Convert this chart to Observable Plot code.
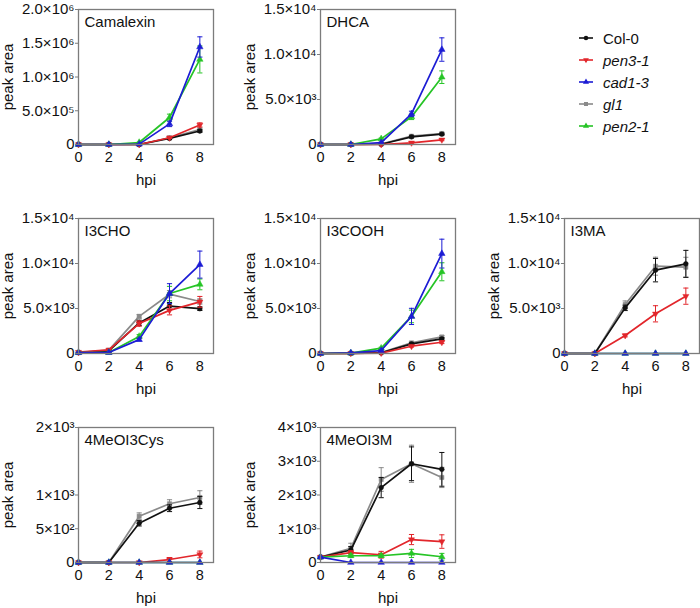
<!DOCTYPE html>
<html>
<head>
<meta charset="utf-8">
<script src="https://cdn.jsdelivr.net/npm/d3@7"></script>
<script src="https://cdn.jsdelivr.net/npm/@observablehq/plot@0.6"></script>
<style>
  html, body { margin: 0; padding: 0; background: #fff; }
  #root { position: relative; width: 700px; height: 608px; font-family: "Liberation Sans", Arial, sans-serif; }
  #root svg text { font-family: "Liberation Sans", Arial, sans-serif; }
  g[aria-label="x-axis label"] text, g[aria-label="y-axis label"] text { font-size: 15px; }
  .legend { position: absolute; left: 578px; top: 27px; font-size: 15px; color: #111; }
  .legend .row { height: 22px; display: flex; align-items: center; }
  .legend .row span { margin-left: 9px; }
</style>
</head>
<body>
<div id="root"></div>
<script>
// ---------------- data ----------------
const hpi = [0, 2, 4, 6, 8];
const seriesNames = ["Col-0", "pen3-1", "cad1-3", "gl1", "pen2-1"];
const seriesItalic = [false, true, true, true, true];
const seriesColors = ["#111111", "#e2262b", "#1c1cd4", "#8a8a8a", "#26c426"];
const drawOrder = ["gl1", "Col-0", "pen3-1", "pen2-1", "cad1-3"];

const panelTitles = ["Camalexin", "DHCA", "I3CHO", "I3COOH", "I3MA", "4MeOI3Cys", "4MeOI3M"];
const panelYMax = [2e6, 1.5e4, 1.5e4, 1.5e4, 1.5e4, 2e3, 4e3];

const camalexinTicks = [0, 5e5, 1e6, 1.5e6, 2e6];
const camalexinTickLabels = ["0", "5.0×10⁵", "1.0×10⁶", "1.5×10⁶", "2.0×10⁶"];
const e4Ticks = [0, 5e3, 1e4, 1.5e4];
const e4TickLabels = ["0", "5.0×10³", "1.0×10⁴", "1.5×10⁴"];
const cysTicks = [0, 500, 1000, 2000];
const cysTickLabels = ["0", "5×10²", "1×10³", "2×10³"];
const mTicks = [0, 1000, 2000, 3000, 4000];
const mTickLabels = ["0", "1×10³", "2×10³", "3×10³", "4×10³"];

// mean values (order of hpi), per panel
const camalexin = {
  "Col-0":  [0, 0, 0, 90000, 200000],
  "pen3-1": [0, 0, 0, 100000, 290000],
  "cad1-3": [0, 0, 5000, 305000, 1445000],
  "gl1":    [0, 0, 0, 100000, 220000],
  "pen2-1": [0, 0, 30000, 400000, 1260000]
};
const camalexinErr = {
  "Col-0":  [0, 0, 0, 10000, 20000],
  "pen3-1": [0, 0, 0, 10000, 30000],
  "cad1-3": [0, 0, 5000, 40000, 150000],
  "gl1":    [0, 0, 0, 15000, 25000],
  "pen2-1": [0, 0, 5000, 50000, 200000]
};
const dhca = {
  "Col-0":  [0, 0, 30, 850, 1150],
  "pen3-1": [0, 0, 0, 185, 520],
  "cad1-3": [0, 0, 200, 3400, 10550],
  "gl1":    [0, 0, 50, 925, 1220],
  "pen2-1": [0, 0, 630, 3070, 7480]
};
const dhcaErr = {
  "Col-0":  [0, 0, 0, 100, 100],
  "pen3-1": [0, 0, 0, 50, 100],
  "cad1-3": [0, 0, 50, 300, 1300],
  "gl1":    [0, 0, 0, 150, 100],
  "pen2-1": [0, 0, 80, 300, 700]
};
const i3cho = {
  "Col-0":  [100, 290, 3400, 5270, 4980],
  "pen3-1": [150, 400, 3330, 4790, 5740],
  "cad1-3": [100, 110, 1540, 6660, 9880],
  "gl1":    [100, 370, 4130, 6590, 5780],
  "pen2-1": [100, 100, 1900, 6660, 7680]
};
const i3choErr = {
  "Col-0":  [30, 60, 300, 400, 200],
  "pen3-1": [60, 80, 300, 500, 600],
  "cad1-3": [30, 30, 150, 1100, 1500],
  "gl1":    [30, 60, 200, 400, 300],
  "pen2-1": [30, 30, 200, 800, 600]
};
const i3cooh = {
  "Col-0":  [0, 20, 80, 1070, 1620],
  "pen3-1": [0, 20, 50, 810, 1250],
  "cad1-3": [0, 70, 330, 4120, 11100],
  "gl1":    [0, 20, 100, 1180, 1840],
  "pen2-1": [0, 50, 590, 4120, 9080]
};
const i3coohErr = {
  "Col-0":  [0, 0, 30, 100, 150],
  "pen3-1": [0, 0, 20, 100, 150],
  "cad1-3": [0, 20, 80, 900, 1600],
  "gl1":    [0, 0, 30, 100, 150],
  "pen2-1": [0, 30, 100, 700, 1000]
};
const i3ma = {
  "Col-0":  [0, 0, 5070, 9260, 9960],
  "pen3-1": [0, 0, 2000, 4410, 6370],
  "cad1-3": [0, 0, 0, 0, 0],
  "gl1":    [0, 0, 5440, 9700, 9590],
  "pen2-1": [0, 0, 0, 0, 0]
};
const i3maErr = {
  "Col-0":  [0, 0, 300, 1300, 1500],
  "pen3-1": [0, 0, 150, 900, 900],
  "cad1-3": [0, 0, 0, 0, 0],
  "gl1":    [0, 0, 400, 1000, 1100],
  "pen2-1": [0, 0, 0, 0, 0]
};
const meoCys = {
  "Col-0":  [0, 0, 581, 804, 889],
  "pen3-1": [0, 0, 0, 44, 119],
  "cad1-3": [0, 0, 0, 0, 0],
  "gl1":    [0, 0, 685, 870, 963],
  "pen2-1": [0, 0, 0, 0, 0]
};
const meoCysErr = {
  "Col-0":  [0, 0, 40, 50, 90],
  "pen3-1": [0, 0, 0, 30, 50],
  "cad1-3": [0, 0, 0, 0, 0],
  "gl1":    [0, 0, 50, 60, 100],
  "pen2-1": [0, 0, 0, 0, 0]
};
const meoM = {
  "Col-0":  [160, 370, 2220, 2925, 2760],
  "pen3-1": [160, 290, 230, 680, 620],
  "cad1-3": [160, 0, 0, 0, 0],
  "gl1":    [160, 420, 2460, 2925, 2520],
  "pen2-1": [160, 200, 200, 270, 170]
};
const meoMErr = {
  "Col-0":  [20, 100, 300, 500, 500],
  "pen3-1": [20, 60, 100, 150, 200],
  "cad1-3": [20, 0, 0, 0, 0],
  "gl1":    [20, 150, 350, 550, 300],
  "pen2-1": [20, 50, 50, 120, 100]
};

// ---------------- build ----------------
const panelValues = [camalexin, dhca, i3cho, i3cooh, i3ma, meoCys, meoM];
const panelErrors = [camalexinErr, dhcaErr, i3choErr, i3coohErr, i3maErr, meoCysErr, meoMErr];
const panelTicks = [camalexinTicks, e4Ticks, e4Ticks, e4Ticks, e4Ticks, cysTicks, mTicks];
const panelTickLabels = [camalexinTickLabels, e4TickLabels, e4TickLabels, e4TickLabels, e4TickLabels, cysTickLabels, mTickLabels];

const triangleDown = {
  draw(ctx, size) {
    const h = Math.sqrt(size) * 0.62;
    ctx.moveTo(-h * 1.15, -h * 0.66);
    ctx.lineTo(h * 1.15, -h * 0.66);
    ctx.lineTo(0, h * 1.33);
    ctx.closePath();
  }
};
const seriesSymbols = {"Col-0": "circle", "pen3-1": triangleDown, "cad1-3": "triangle", "gl1": "square", "pen2-1": "triangle"};
const colorOf = Object.fromEntries(seriesNames.map((s, i) => [s, seriesColors[i]]));

// layout: frame-left / frame-top positions of the 7 panels
const colLeft = [78, 320, 564];
const rowTop = [9, 218, 427];
const panelCell = [[0,0],[1,0],[0,1],[1,1],[2,1],[0,2],[1,2]];
const mL = 78, mT = 9, pw = 135, ph = 135, mR = 12, mB = 48;

const root = document.getElementById("root");

panelTitles.forEach((title, p) => {
  const vals = panelValues[p], errs = panelErrors[p];
  const ticks = panelTicks[p], labels = panelTickLabels[p];
  const marks = [];
  for (const s of drawOrder) {
    const rows = hpi.map((h, i) => ({hpi: h, v: vals[s][i], lo: Math.max(0, vals[s][i] - errs[s][i]), hi: vals[s][i] + errs[s][i], e: errs[s][i]}));
    const withErr = rows.filter(d => d.e > 0);
    const c = colorOf[s];
    marks.push(Plot.ruleX(withErr, {x: "hpi", y1: "lo", y2: "hi", stroke: c, strokeWidth: 1}));
    marks.push(Plot.link(withErr, {x1: d => d.hpi - 0.17, x2: d => d.hpi + 0.17, y1: "hi", y2: "hi", stroke: c, strokeWidth: 1}));
    marks.push(Plot.link(withErr, {x1: d => d.hpi - 0.17, x2: d => d.hpi + 0.17, y1: "lo", y2: "lo", stroke: c, strokeWidth: 1}));
    marks.push(Plot.line(rows, {x: "hpi", y: "v", stroke: c, strokeWidth: 1.7}));
    marks.push(Plot.dot(rows, {x: "hpi", y: "v", symbol: seriesSymbols[s], r: 2.4, fill: c, stroke: c, strokeWidth: 0.5}));
  }
  marks.push(Plot.frame({stroke: "#7c7c7c", strokeWidth: 1.3}));
  marks.push(Plot.text([title], {frameAnchor: "top-left", dx: 6, dy: 7, lineAnchor: "top", textAnchor: "start", fontSize: 15, fill: "#111"}));
  marks.push(Plot.axisX({ticks: hpi, tickSize: 0, tickPadding: 7, fontSize: 14.5, label: "hpi", labelAnchor: "center", labelOffset: 40, labelArrow: "none"}));
  marks.push(Plot.axisY({ticks: ticks, tickFormat: (d) => labels[ticks.indexOf(d)], tickSize: 3, tickPadding: 1, fontSize: 15, label: "peak area", labelAnchor: "center", labelOffset: 76, labelArrow: "none", stroke: "#7c7c7c"}));

  const chart = Plot.plot({
    width: mL + pw + mR,
    height: mT + ph + mB,
    marginLeft: mL, marginTop: mT, marginRight: mR, marginBottom: mB,
    x: {domain: [0, 8.9], nice: false},
    y: {domain: [0, panelYMax[p]], nice: false},
    style: {fontFamily: "Liberation Sans, Arial, sans-serif", color: "#111", background: "transparent", overflow: "visible"},
    marks
  });
  const [ci, ri] = panelCell[p];
  chart.style.position = "absolute";
  chart.style.left = (colLeft[ci] - mL) + "px";
  chart.style.top = (rowTop[ri] - mT) + "px";
  root.appendChild(chart);
});

// legend
const legend = document.createElement("div");
legend.className = "legend";
seriesNames.forEach((s, i) => {
  const row = document.createElement("div");
  row.className = "row";
  const sym = seriesSymbols[s];
  const symObj = typeof sym === "string" ? (sym === "circle" ? d3.symbolCircle : sym === "square" ? d3.symbolSquare : d3.symbolTriangle) : sym;
  const path = d3.symbol(symObj, 16)();
  row.innerHTML = `<svg width="16" height="10"><line x1="1" x2="15" y1="5" y2="5" stroke="${seriesColors[i]}" stroke-width="1.6"/><path transform="translate(8,5)" d="${path}" fill="${seriesColors[i]}"/></svg><span style="font-style:${seriesItalic[i] ? "italic" : "normal"}">${s}</span>`;
  legend.appendChild(row);
});
root.appendChild(legend);
</script>
</body>
</html>
